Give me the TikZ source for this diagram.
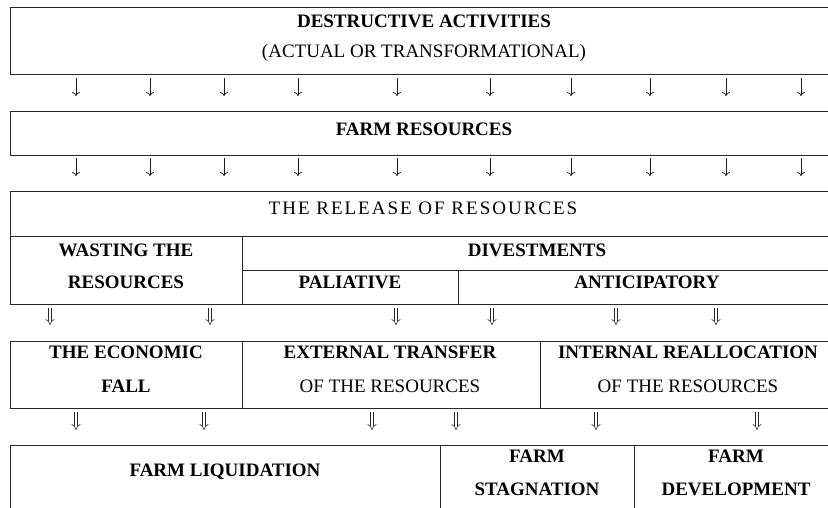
\documentclass[tikz,border=0pt]{standalone}
\usepackage{fontspec}
\setmainfont{Liberation Serif}
\newfontfamily\spacedfont[LetterSpace=10.5]{Liberation Serif}
\usetikzlibrary{arrows.meta}
\begin{document}
\begin{tikzpicture}[x=1pt,y=-1pt,
  cell/.style={draw=black!85, line width=0.9pt, anchor=north west, inner sep=0pt, outer sep=0pt},
  bt/.style={font=\fontsize{19}{19}\selectfont\bfseries, inner sep=0pt, anchor=center},
  rt/.style={font=\fontsize{19}{19}\selectfont, inner sep=0pt, anchor=center},
  thinarr/.style={line width=0.7pt, black!90, -{To[length=4pt,width=8pt]}},
  dblarr/.style={line width=0.55pt, black!85, double, double distance=2.6pt, -{Implies[length=4pt,width=9pt]}}
]
\useasboundingbox (0,0) rectangle (828,508);
\begin{scope}
\clip (0,0) rectangle (828,508);
% row 1
\node[cell, minimum width=828pt, minimum height=67pt] (destr) at (10,7) {};
\node[bt] (destrA) at (424,21) {DESTRUCTIVE ACTIVITIES};
\node[rt] (destrB) at (424,53) {(ACTUAL OR TRANSFORMATIONAL)};
% row 2
\node[cell, minimum width=828pt, minimum height=44pt] (farm) at (10,111) {};
\node[bt] (farmT) at (424,129) {FARM RESOURCES};
% row 3
\node[cell, minimum width=828pt, minimum height=45pt] (release) at (10,191) {};
\node[rt, font=\fontsize{19}{19}\selectfont\spacedfont] (releaseT) at (423,208) {THE RELEASE OF RESOURCES};
\node[cell, minimum width=232pt, minimum height=68pt] (waste) at (10,236) {};
\node[bt] (wasteA) at (126,250) {WASTING THE};
\node[bt] (wasteB) at (126,282) {RESOURCES};
\node[cell, minimum width=596pt, minimum height=34pt] (divest) at (242,236) {};
\node[bt] (divestT) at (537,250) {DIVESTMENTS};
\node[cell, minimum width=216pt, minimum height=34pt] (pal) at (242,270) {};
\node[bt] (palT) at (350,282) {PALIATIVE};
\node[cell, minimum width=380pt, minimum height=34pt] (anti) at (458,270) {};
\node[bt] (antiT) at (647,282) {ANTICIPATORY};
% row 4
\node[cell, minimum width=232pt, minimum height=67pt] (econ) at (10,341) {};
\node[bt] (econA) at (126,352) {THE ECONOMIC};
\node[bt] (econB) at (126,386) {FALL};
\node[cell, minimum width=298pt, minimum height=67pt] (ext) at (242,341) {};
\node[bt] (extA) at (390,352) {EXTERNAL TRANSFER};
\node[rt] (extB) at (390,386) {OF THE RESOURCES};
\node[cell, minimum width=298pt, minimum height=67pt] (intr) at (540,341) {};
\node[bt] (intA) at (688,352) {INTERNAL REALLOCATION};
\node[rt] (intB) at (688,386) {OF THE RESOURCES};
% row 5
\node[cell, minimum width=430pt, minimum height=80pt] (liq) at (10,445) {};
\node[bt] (liqT) at (225,472) {FARM LIQUIDATION};
\node[cell, minimum width=194pt, minimum height=80pt] (stag) at (440,445) {};
\node[bt] (stagA) at (537,456) {FARM};
\node[bt] (stagB) at (537,489) {STAGNATION};
\node[cell, minimum width=204pt, minimum height=80pt] (dev) at (634,445) {};
\node[bt] (devA) at (736,456) {FARM};
\node[bt] (devB) at (736,489) {DEVELOPMENT};
\end{scope}
% thin arrows
\foreach \x [count=\i] in {76,150,224,298,397,490,571,650,726,801} {
  \coordinate (a\i s) at (\x,78);
  \coordinate (a\i e) at (\x,96);
  \draw[thinarr] (a\i s) -- (a\i e);
  \coordinate (b\i s) at (\x,158);
  \coordinate (b\i e) at (\x,176);
  \draw[thinarr] (b\i s) -- (b\i e);
}
% double arrows
\foreach \x [count=\i] in {50,210,396,492,616,716} {
  \coordinate (c\i s) at (\x,308);
  \coordinate (c\i e) at (\x,325);
  \draw[dblarr] (c\i s) -- (c\i e);
}
\foreach \x [count=\i] in {76,204,372,456,596,757} {
  \coordinate (d\i s) at (\x,412);
  \coordinate (d\i e) at (\x,430);
  \draw[dblarr] (d\i s) -- (d\i e);
}
\end{tikzpicture}
\end{document}
